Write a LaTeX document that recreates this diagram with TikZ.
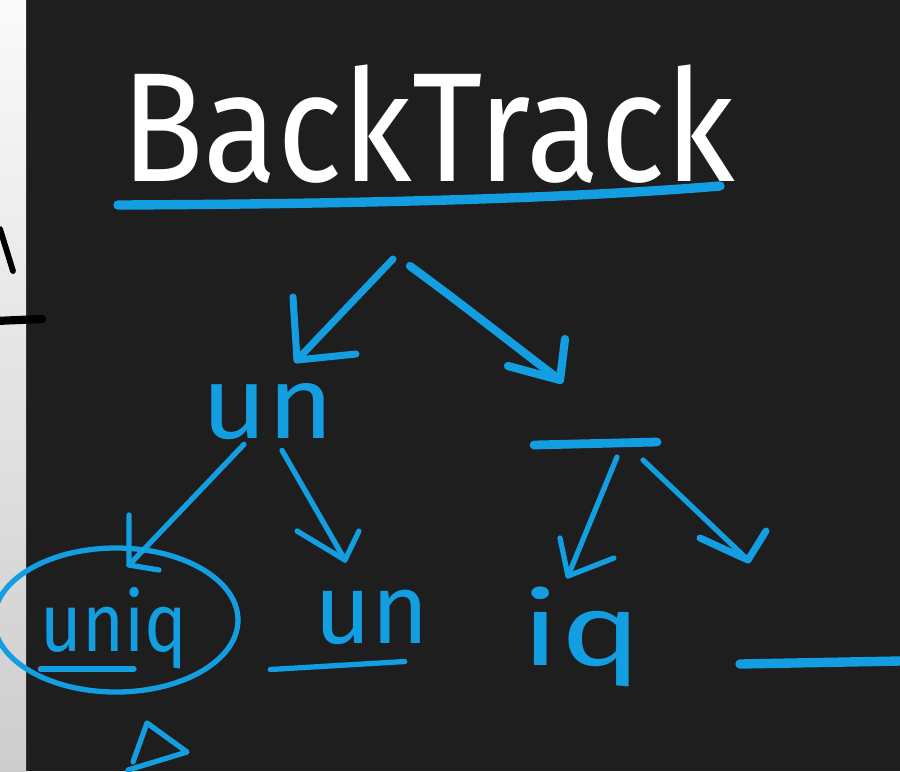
\documentclass[tikz,border=0pt]{standalone}
\usepackage{fontspec}
\setmainfont{Fira Sans}
\usetikzlibrary{calc}
\definecolor{board}{RGB}{30,30,31}
\definecolor{inkblue}{RGB}{20,158,226}
\definecolor{stripA}{RGB}{250,250,250}
\definecolor{stripB}{RGB}{205,205,205}
\tikzset{
  pen/.style={draw=inkblue, line width=6pt, line cap=round, line join=round},
  thinpen/.style={draw=inkblue, line width=4.5pt, line cap=round, line join=round},
  chalk/.style={draw=black, line width=7pt, line cap=round},
  word/.style={inner sep=0pt, text=inkblue},
}
\begin{document}
\begin{tikzpicture}[x=0.03cm, y=-0.03cm]
\useasboundingbox (0,0) rectangle (900,771);
\fill[board] (0,0) rectangle (900,771);
\shade[top color=stripA, bottom color=stripB] (0,0) rectangle (26,771);
% black marks on the left strip
\draw[chalk, line width=5pt] (0,229) -- (13,271);
\draw[chalk] (-5,321) -- (42,319);

% title
\node[inner sep=0pt, text=white] (title) at (428,124)
  {\resizebox{18.4cm}{3.5cm}{BackTrack}};
\coordinate (ulA) at (118,205);
\coordinate (ulB) at (720,186);
\draw[pen, line width=8pt] (ulA) .. controls (330,204) and (550,200) .. (ulB);

% tree nodes
\coordinate (rootL) at (393,259);
\coordinate (rootR) at (410,266);
\node[word] (un1) at (268,412) {\resizebox{4.0cm}{1.65cm}{un}};
\coordinate (blankA) at (534,445);
\coordinate (blankB) at (657,442);
\draw[pen, line width=7.5pt] (blankA) -- (blankB);
\coordinate (blank1) at (600,443);
\node[word] (uniq) at (114,628) {\resizebox*{4.4cm}{2.45cm}{uniq}};
\node[word] (un2) at (372,617) {\resizebox{3.45cm}{1.6cm}{un}};
\node[word] (iq) at (582,637) {\resizebox*{3.6cm}{3.0cm}{iq}};
\coordinate (blankRA) at (740,664);
\coordinate (blankRB) at (900,661);
\draw[pen, line width=8pt] (blankRA) -- (blankRB);

% root -> un
\coordinate (tA) at (297,360);
\draw[pen] (rootL) -- (tA);
\draw[pen] ($(tA)+(-4,-63)$) -- (tA) -- ($(tA)+(59,-6)$);
% root -> blank
\coordinate (tB) at (560,380);
\draw[pen, line width=7pt] (rootR) .. controls (470,310) and (520,350) .. (tB);
\draw[pen, line width=7pt] ($(tB)+(-52,-14)$) -- (tB) -- ($(tB)+(5,-41)$);

% un -> uniq
\coordinate (tC) at (129,565);
\draw[thinpen] ($(un1.south)+(-24,4)$) -- (tC);
\draw[thinpen] ($(tC)+(0,-50)$) -- (tC) -- ($(tC)+(30,5)$);
% un -> un
\coordinate (tD) at (345,560);
\draw[thinpen] ($(un1.south)+(14,10)$) -- (tD);
\draw[thinpen] ($(tD)+(-48,-29)$) -- (tD) -- ($(tD)+(14,-29)$);
% blank -> iq
\coordinate (tE) at (568,576);
\draw[thinpen] ($(blank1)+(17,14)$) -- (tE);
\draw[thinpen] ($(tE)+(-8,-38)$) -- (tE) -- ($(tE)+(46,-18)$);
% blank -> blank
\coordinate (tF) at (748,560);
\draw[thinpen] ($(blank1)+(43,17)$) -- (tF);
\draw[pen] ($(tF)+(-48,-22)$) -- (tF) -- ($(tF)+(18,-29)$);

% circle around uniq and underlines
\draw[thinpen] ($(uniq)+(2,-8)$) ellipse [x radius=122, y radius=72];
\draw[thinpen] ($(uniq.south west)+(0,0)$) -- ($(uniq.south)+(20,0)$);
\draw[thinpen] ($(un2.south west)+(-44,25)$) -- ($(un2.south east)+(-25,17)$);

% small arrow under uniq
\coordinate (tG) at (147,723);
\draw[thinpen] (133,762) -- (tG) -- (187,752) -- (128,770);
\end{tikzpicture}
\end{document}
